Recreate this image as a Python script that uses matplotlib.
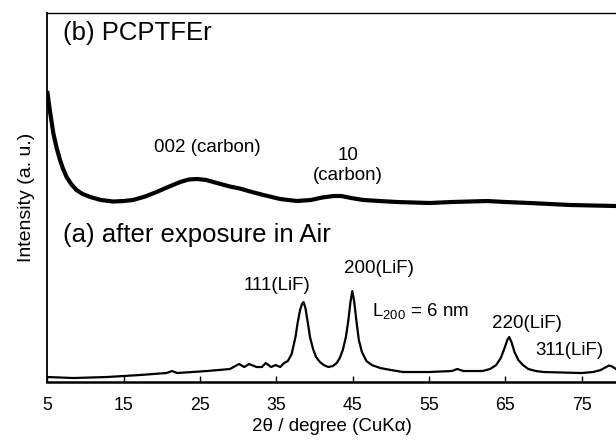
import matplotlib
matplotlib.use("Agg")
import matplotlib.pyplot as plt

plt.rcParams['font.family'] = ['Liberation Sans', 'DejaVu Sans']
plt.rcParams['mathtext.fontset'] = 'custom'
plt.rcParams['mathtext.rm'] = 'Liberation Sans'

# (b) PCPTFEr pattern (upper curve)
two_theta_b = [5.0, 5.3, 5.76, 6.2, 6.64, 7.0, 7.5, 8.1, 8.8, 9.6, 10.6, 12.0, 13.6,
               15.0, 16.2, 17.8, 19.3, 20.8, 22.4, 23.5, 24.6, 25.8, 27.2, 28.9,
               30.2, 31.8, 33.3, 35.5, 37.7, 39.5, 41.0, 42.5, 43.5, 44.8, 46.4,
               48.5, 50.8, 55.1, 58.0, 62.6, 65.0, 68.2, 73.5, 79.5]
intensity_b = [289, 272, 249, 234, 222, 214, 205, 198, 192, 188, 185, 182, 180.5,
               181, 182, 185.5, 190, 195, 200, 202.5, 203, 202, 199, 195.5,
               193.5, 190, 187, 183, 181, 182, 184.5, 186, 186, 184, 182,
               181, 180, 179, 180, 181, 180, 179, 177, 176]

# (a) after exposure in Air (lower curve)
two_theta_a = [5.0, 8.4, 12.8, 17.1, 20.6, 21.3, 22.0, 25.9, 28.9, 30.1, 30.8, 31.4,
               32.4, 33.1, 33.6, 34.3, 34.9, 35.5, 36.0, 36.5, 37.0, 37.2, 37.5, 37.8,
               38.1, 38.35, 38.55, 38.8, 39.1, 39.4, 39.8, 40.2, 40.7, 41.2, 41.8,
               42.4, 42.9, 43.3, 43.7, 44.1, 44.4, 44.7, 44.95, 45.2, 45.5, 45.8,
               46.2, 46.8, 47.5, 48.6, 50.0, 51.6, 55.0, 58.0, 58.7, 59.5, 62.0,
               63.0, 63.8, 64.4, 64.9, 65.25, 65.5, 65.8, 66.2, 66.7, 67.3, 68.0,
               69.0, 70.0, 75.0, 76.5, 77.5, 78.2, 78.6, 79.0, 79.5]
intensity_a = [5, 4, 5, 7, 9, 11, 9, 11, 13, 18, 15, 18,
               15, 15, 19, 15, 17, 15, 19, 21, 28, 35, 45, 60,
               72, 78, 80, 74, 60, 45, 33, 25, 20, 17, 15,
               16, 19, 24, 32, 45, 60, 80, 91, 80, 60, 42,
               30, 21, 17, 14, 12, 10, 10, 11, 13, 11, 11,
               13, 17, 24, 34, 42, 45, 40, 30, 22, 17, 13,
               11, 10, 9, 10, 12, 15, 16.5, 15.5, 13]

xticks = [5, 15, 25, 35, 45, 55, 65, 75]

fig = plt.figure(figsize=(6.16, 4.42), dpi=100)
ax = fig.add_axes([0.0771, 0.1357, 1.0 - 0.0771, 0.9706 - 0.1357])

ax.plot(two_theta_b, intensity_b, color='black', lw=3.0, solid_joinstyle='round')
ax.plot(two_theta_a, intensity_a, color='black', lw=1.6, solid_joinstyle='round')

ax.set_xlim(5, 79.5)
ax.set_ylim(0, 369)
ax.set_xticks(xticks)
ax.set_xticklabels([str(t) for t in xticks], fontsize=12.8)
ax.set_yticks([])
ax.tick_params(axis='x', direction='in', length=4, width=1, pad=11)
ax.spines['right'].set_visible(False)
ax.spines['bottom'].set_linewidth(1.8)
ax.spines['left'].set_linewidth(1.3)
ax.spines['top'].set_linewidth(1.0)

ax.set_xlabel('2θ / degree (CuKα)', fontsize=13.5, labelpad=3)
ax.set_ylabel('Intensity (a. u.)', fontsize=14, labelpad=9)

fs_big = 18.5
fs_ann = 13.5
ax.text(7.0, 349, '(b) PCPTFEr', fontsize=fs_big, va='center', ha='left')
ax.text(7.0, 147, '(a) after exposure in Air', fontsize=fs_big, va='center', ha='left')
ax.text(26.0, 235, '002 (carbon)', fontsize=fs_ann, ha='center', va='center')
ax.text(44.4, 227, '10', fontsize=fs_ann, ha='center', va='center')
ax.text(44.4, 207, '(carbon)', fontsize=fs_ann, ha='center', va='center')
ax.text(35.1, 97, '111(LiF)', fontsize=fs_ann, ha='center', va='center')
ax.text(48.4, 114, '200(LiF)', fontsize=fs_ann, ha='center', va='center')
ax.text(47.5, 70, r'L$_{\mathregular{200}}$ = 6 nm', fontsize=fs_ann, ha='left', va='center')
ax.text(67.8, 59, '220(LiF)', fontsize=fs_ann, ha='center', va='center')
ax.text(73.4, 32, '311(LiF)', fontsize=fs_ann, ha='center', va='center')

fig.savefig('out.png', dpi=100)
